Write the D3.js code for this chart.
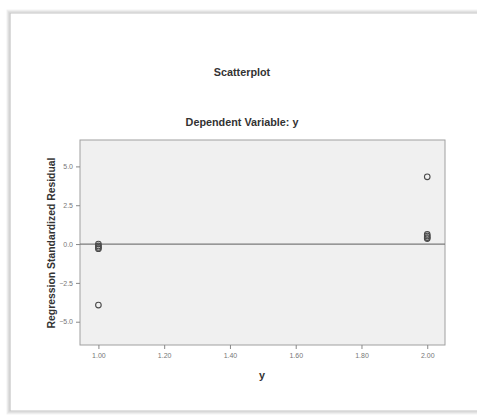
<!DOCTYPE html>
<html>
<head>
<meta charset="utf-8">
<script src="https://cdn.jsdelivr.net/npm/d3@7"></script>
<style>
  html, body { margin: 0; padding: 0; background: #ffffff; overflow: hidden; }
  svg { display: block; }
  text { font-family: Arial, "Liberation Sans", sans-serif; }
</style>
</head>
<body>
<div id="chart"></div>
<script>
// ---- data ----
const xValues = [1, 1, 1, 1, 1, 2, 2, 2, 2, 2];
const residuals = [0.0, -0.12, -0.22, -0.3, -3.93, 4.33, 0.62, 0.52, 0.42, 0.35];
const xTicks = [1.0, 1.2, 1.4, 1.6, 1.8, 2.0];
const yTicks = [5.0, 2.5, 0.0, -2.5, -5.0];
const title = "Scatterplot";
const subtitle = "Dependent Variable: y";
const xLabel = "y";
const yLabel = "Regression Standardized Residual";

const W = 477, H = 415;
const svg = d3.select("#chart").append("svg").attr("width", W).attr("height", H);

// outer frame (left, top, bottom edges with a soft shadow)
const frame = svg.append("g");
const shadowSteps = [[3, 0.05], [2, 0.09], [1, 0.14]];
shadowSteps.forEach(([o, a]) => {
  frame.append("path")
    .attr("d", `M${W + 20},${13 - o}H${10 - o}V${411 + o}H${W + 20}`)
    .attr("fill", "none").attr("stroke", `rgba(0,0,0,${a})`).attr("stroke-width", 1.2);
});
frame.append("path")
  .attr("d", `M${W + 20},13H10V411H${W + 20}`)
  .attr("fill", "none").attr("stroke", "#c4c4c4").attr("stroke-width", 1.2);

// plot area
const plot = { left: 80, top: 140, right: 445, bottom: 345 };
const x = d3.scaleLinear().domain([0.944, 2.054]).range([plot.left, plot.right]);
const y = d3.scaleLinear().domain([-6.5, 6.7]).range([plot.bottom, plot.top]);

svg.append("rect").attr("x", plot.left).attr("y", plot.top)
  .attr("width", plot.right - plot.left).attr("height", plot.bottom - plot.top)
  .attr("fill", "#f0f0f0").attr("stroke", "#a0a0a0").attr("stroke-width", 1);

// reference line at 0
svg.append("line").attr("x1", plot.left).attr("x2", plot.right)
  .attr("y1", y(0)).attr("y2", y(0)).attr("stroke", "#7a7a7a").attr("stroke-width", 1.2);

// axes
const xAxis = d3.axisBottom(x).tickValues(xTicks).tickFormat(d3.format(".2f")).tickSize(4).tickSizeOuter(0);
const gx = svg.append("g").attr("transform", `translate(0,${plot.bottom})`).call(xAxis);
gx.select(".domain").remove();
gx.selectAll("line").attr("stroke", "#888");
gx.selectAll("text").attr("fill", "#777").attr("font-size", 7).attr("dy", "0.9em");

const yAxis = d3.axisLeft(y).tickValues(yTicks).tickFormat(d3.format(".1f")).tickSize(4).tickSizeOuter(0);
const gy = svg.append("g").attr("transform", `translate(${plot.left},0)`).call(yAxis);
gy.select(".domain").remove();
gy.selectAll("line").attr("stroke", "#888");
gy.selectAll("text").attr("fill", "#777").attr("font-size", 7);

// points
svg.append("g").selectAll("circle").data(xValues.map((v, i) => [v, residuals[i]]))
  .join("circle")
  .attr("cx", d => x(d[0])).attr("cy", d => y(d[1])).attr("r", 2.8)
  .attr("fill", "none").attr("stroke", "#4a4a4a").attr("stroke-width", 1.1);

// titles
svg.append("text").attr("x", 242).attr("y", 76).attr("text-anchor", "middle")
  .attr("font-size", 10.8).attr("font-weight", "bold").attr("fill", "#333").text(title);
svg.append("text").attr("x", 242).attr("y", 126).attr("text-anchor", "middle")
  .attr("font-size", 10.8).attr("font-weight", "bold").attr("fill", "#333").text(subtitle);
svg.append("text").attr("x", 262).attr("y", 379).attr("text-anchor", "middle")
  .attr("font-size", 10.8).attr("font-weight", "bold").attr("fill", "#333").text(xLabel);
svg.append("text").attr("transform", `translate(55,243) rotate(-90)`).attr("text-anchor", "middle")
  .attr("font-size", 10.4).attr("font-weight", "bold").attr("fill", "#333").text(yLabel);
</script>
</body>
</html>
